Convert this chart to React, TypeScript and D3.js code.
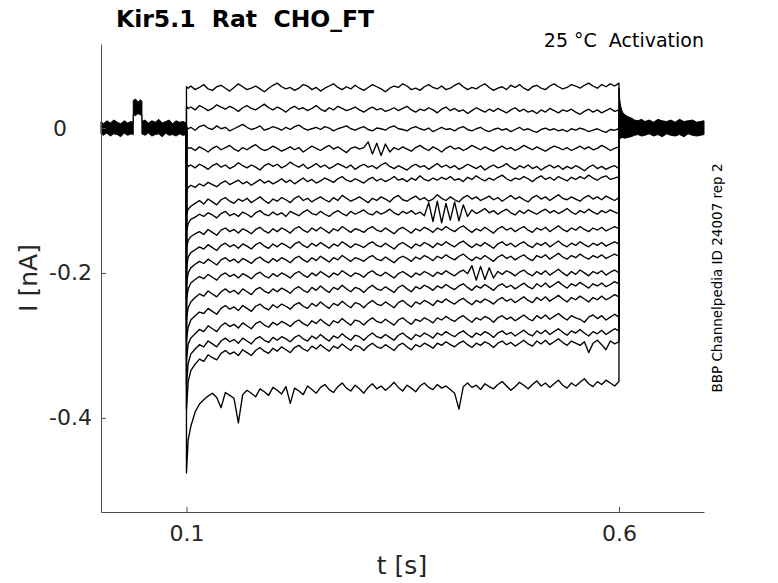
import * as d3 from "d3";
import React from "react";

// Recording window and voltage step (s)
const recordingStart = 0.0012;
const recordingEnd = 0.6983;
const pulseStart = 0.1;
const pulseEnd = 0.6;
const holdingCurrent = 0; // pA

// Sample times inside the step: onset, then every 5 ms (0.105 .. 0.6)
const pulseTimes = [0.1, 0.102, ...d3.range(21, 121).map((i) => i / 200)];

// Current (pA) of each sweep at pulseTimes, top sweep first
const sweep01 = [57, 55,
  58, 53, 56, 60, 54, 52, 57, 59, 55, 51,
  56, 61, 57, 53, 55, 58, 54, 50, 55, 59,
  62, 57, 54, 56, 52, 55, 60, 58, 53, 56,
  51, 55, 58, 61, 56, 53, 57, 54, 59, 55,
  52, 56, 60, 57, 54, 50, 55, 58, 56, 61,
  58, 53, 55, 52, 57, 60, 56, 54, 58, 53,
  55, 59, 62, 57, 53, 56, 54, 58, 61, 56,
  52, 55, 57, 53, 59, 56, 60, 55, 52, 57,
  59, 55, 53, 58, 61, 57, 54, 56, 60, 58,
  55, 59, 62, 58, 55, 60, 57, 61, 58, 62];
const sweep02 = [30, 27,
  29, 25, 31, 28, 24, 27, 32, 29, 26, 30,
  27, 23, 28, 31, 27, 25, 29, 33, 28, 25,
  29, 26, 22, 27, 30, 26, 28, 24, 27, 31,
  26, 23, 28, 25, 30, 27, 24, 26, 29, 25,
  22, 26, 29, 25, 27, 23, 25, 28, 24, 27,
  30, 25, 22, 26, 24, 28, 25, 21, 26, 29,
  24, 27, 23, 25, 20, 24, 28, 25, 22, 26,
  23, 27, 24, 21, 25, 28, 23, 26, 22, 24,
  20, 25, 22, 27, 24, 21, 25, 23, 26, 22,
  19, 23, 26, 22, 25, 21, 24, 27, 23, 25];
const sweep03 = [2, -1,
  1, -3, 2, 4, 0, -2, 3, -1, 1, -4,
  -1, 2, 5, 1, -2, 0, 3, -3, -1, 2,
  0, -3, 1, -2, 2, 4, 0, -3, -1, 1,
  -2, 2, 0, -4, -1, 1, 3, -1, -3, 0,
  2, -2, -4, 0, -1, -3, 1, 3, -1, -2,
  -4, 0, 2, -1, -3, 0, -5, -2, 1, -2,
  -1, -4, 0, 2, -2, -4, -1, 1, -3, -5,
  -2, 0, -3, -1, -5, -2, 1, -3, -1, -4,
  -6, -2, 0, -3, -1, -4, -2, -5, -1, -3,
  0, -2, -5, -3, -1, -4, -6, -2, -3, -1];
const sweep04 = [-25, -28,
  -27, -31, -26, -29, -33, -28, -25, -30, -27, -24,
  -29, -32, -27, -30, -26, -23, -28, -31, -29, -25,
  -28, -32, -29, -26, -30, -27, -33, -29, -25, -28,
  -31, -27, -24, -29, -26, -30, -34, -28, -26, -29,
  -27, -19, -36, -21, -38, -22, -33, -27, -30, -26,
  -29, -32, -27, -24, -28, -31, -26, -29, -33, -28,
  -25, -29, -27, -31, -28, -24, -27, -30, -26, -29,
  -32, -28, -25, -29, -27, -31, -28, -24, -27, -30,
  -26, -29, -32, -28, -25, -27, -30, -27, -31, -28,
  -25, -29, -26, -30, -28, -24, -27, -31, -28, -26];
const sweep05 = [-50, -53,
  -51, -55, -50, -53, -57, -52, -49, -54, -51, -56,
  -53, -48, -52, -55, -51, -54, -58, -52, -49, -53,
  -50, -55, -52, -47, -51, -54, -50, -56, -53, -49,
  -54, -51, -56, -53, -49, -52, -55, -51, -57, -53,
  -50, -54, -52, -56, -51, -48, -53, -56, -52, -55,
  -58, -53, -50, -54, -52, -57, -53, -49, -54, -51,
  -55, -52, -57, -54, -50, -53, -56, -52, -58, -54,
  -51, -55, -53, -49, -54, -57, -52, -55, -51, -56,
  -53, -58, -54, -51, -55, -52, -57, -53, -56, -52,
  -55, -59, -54, -51, -56, -53, -57, -54, -52, -56];
const sweep06 = [-86, -82,
  -79, -82, -77, -80, -75, -78, -81, -76, -73, -78,
  -75, -72, -77, -74, -79, -75, -71, -76, -73, -77,
  -74, -70, -75, -72, -77, -73, -69, -74, -71, -76,
  -73, -69, -72, -75, -70, -67, -72, -74, -70, -73,
  -76, -71, -68, -73, -70, -74, -71, -67, -72, -70,
  -74, -69, -72, -66, -71, -73, -69, -72, -68, -71,
  -67, -72, -70, -74, -68, -71, -66, -70, -73, -69,
  -72, -68, -65, -70, -73, -69, -71, -67, -70, -74,
  -69, -66, -71, -68, -72, -67, -70, -73, -68, -71,
  -67, -70, -65, -69, -72, -68, -66, -71, -69, -67];
const sweep07 = [-120, -112,
  -108, -104, -100, -105, -98, -102, -106, -99, -96, -101,
  -104, -98, -101, -97, -103, -99, -95, -100, -104, -98,
  -101, -96, -99, -103, -97, -94, -100, -97, -102, -98,
  -95, -99, -102, -96, -100, -93, -97, -101, -98, -95,
  -99, -103, -97, -100, -95, -98, -102, -96, -93, -99,
  -101, -97, -94, -99, -96, -101, -98, -92, -97, -100,
  -95, -99, -102, -96, -93, -98, -95, -100, -97, -94,
  -99, -96, -101, -97, -93, -98, -95, -99, -102, -96,
  -93, -98, -95, -100, -96, -92, -97, -99, -95, -98,
  -101, -96, -93, -98, -95, -99, -94, -97, -100, -96];
const sweep08 = [-143, -132,
  -126, -123, -119, -122, -117, -120, -124, -118, -115, -121,
  -118, -122, -116, -119, -123, -117, -114, -119, -121, -116,
  -120, -117, -122, -115, -118, -121, -116, -113, -118, -120,
  -115, -119, -122, -117, -114, -118, -121, -115, -119, -116,
  -113, -118, -120, -115, -119, -116, -112, -117, -120, -115,
  -118, -114, -119, -116, -121, -103, -129, -101, -131, -104,
  -127, -102, -128, -106, -122, -113, -118, -115, -111, -117,
  -114, -119, -115, -112, -117, -120, -114, -118, -113, -116,
  -119, -115, -112, -117, -114, -118, -115, -111, -116, -119,
  -114, -117, -112, -116, -119, -114, -117, -113, -116, -118];
const sweep09 = [-168, -155,
  -150, -146, -143, -147, -140, -144, -148, -141, -138, -143,
  -140, -145, -139, -142, -146, -140, -137, -142, -145, -139,
  -143, -138, -141, -145, -139, -136, -141, -144, -138, -142,
  -137, -141, -145, -139, -142, -136, -140, -144, -139, -141,
  -144, -139, -136, -141, -143, -138, -142, -146, -140, -137,
  -141, -145, -139, -142, -137, -140, -144, -138, -141, -136,
  -140, -143, -138, -135, -140, -144, -139, -142, -137, -141,
  -145, -139, -136, -141, -138, -143, -139, -136, -141, -144,
  -138, -141, -137, -143, -139, -135, -140, -143, -138, -141,
  -136, -140, -143, -138, -141, -137, -142, -139, -136, -139];
const sweep10 = [-193, -178,
  -172, -168, -164, -167, -161, -165, -169, -162, -159, -164,
  -161, -166, -160, -163, -167, -161, -158, -163, -166, -160,
  -164, -159, -162, -166, -160, -157, -162, -165, -159, -163,
  -158, -162, -166, -160, -163, -157, -161, -165, -160, -162,
  -165, -160, -157, -162, -164, -159, -163, -167, -161, -158,
  -162, -166, -160, -163, -158, -161, -165, -159, -162, -157,
  -161, -164, -159, -156, -161, -165, -160, -163, -158, -162,
  -166, -160, -157, -162, -159, -164, -160, -157, -162, -165,
  -159, -162, -158, -164, -160, -156, -161, -164, -159, -162,
  -157, -161, -164, -159, -162, -158, -163, -160, -157, -160];
const sweep11 = [-216, -200,
  -193, -188, -184, -187, -181, -185, -189, -182, -179, -184,
  -181, -186, -180, -183, -187, -181, -178, -183, -186, -180,
  -184, -179, -182, -186, -180, -177, -182, -185, -179, -183,
  -177, -181, -185, -179, -182, -176, -180, -184, -179, -181,
  -184, -179, -176, -181, -183, -178, -182, -186, -180, -177,
  -180, -184, -178, -181, -176, -179, -183, -177, -180, -175,
  -179, -182, -177, -174, -179, -183, -178, -181, -176, -180,
  -184, -178, -175, -180, -177, -182, -178, -175, -180, -183,
  -176, -179, -175, -181, -177, -173, -178, -181, -176, -179,
  -174, -178, -181, -176, -179, -175, -180, -177, -174, -177];
const sweep12 = [-237, -222,
  -214, -209, -205, -208, -202, -206, -210, -203, -200, -205,
  -202, -207, -201, -204, -208, -202, -199, -204, -207, -201,
  -205, -200, -203, -207, -201, -198, -203, -206, -200, -204,
  -198, -202, -206, -200, -203, -197, -201, -205, -200, -202,
  -206, -200, -197, -202, -204, -199, -203, -207, -201, -198,
  -202, -206, -200, -203, -198, -201, -205, -199, -202, -197,
  -201, -204, -199, -196, -201, -190, -210, -191, -209, -193,
  -207, -198, -202, -197, -200, -204, -199, -196, -201, -204,
  -198, -202, -197, -203, -199, -195, -200, -204, -198, -202,
  -196, -200, -204, -198, -201, -197, -203, -199, -196, -200];
const sweep13 = [-265, -248,
  -240, -234, -229, -232, -225, -229, -233, -226, -222, -227,
  -224, -229, -222, -226, -230, -223, -220, -225, -228, -222,
  -226, -221, -224, -228, -222, -219, -224, -227, -220, -224,
  -218, -223, -227, -220, -223, -217, -222, -226, -220, -222,
  -227, -221, -217, -222, -224, -219, -223, -227, -220, -217,
  -222, -226, -219, -222, -217, -220, -224, -218, -221, -216,
  -220, -223, -218, -215, -220, -224, -218, -221, -216, -220,
  -224, -218, -215, -220, -217, -222, -218, -214, -219, -222,
  -215, -219, -214, -220, -216, -212, -217, -221, -215, -218,
  -213, -217, -221, -215, -218, -214, -219, -216, -212, -215];
const sweep14 = [-292, -275,
  -265, -259, -254, -256, -249, -253, -257, -249, -245, -250,
  -247, -252, -245, -249, -253, -246, -243, -248, -251, -244,
  -248, -243, -246, -250, -244, -241, -246, -249, -242, -246,
  -240, -245, -249, -242, -245, -239, -244, -248, -241, -243,
  -248, -242, -238, -243, -245, -240, -244, -248, -241, -238,
  -243, -247, -240, -243, -238, -241, -245, -238, -241, -236,
  -240, -243, -238, -235, -240, -244, -238, -241, -236, -239,
  -243, -237, -234, -239, -236, -241, -237, -233, -238, -241,
  -234, -238, -233, -239, -235, -231, -236, -240, -234, -237,
  -232, -236, -240, -234, -237, -232, -237, -234, -230, -233];
const sweep15 = [-320, -298,
  -290, -284, -278, -281, -273, -277, -281, -273, -269, -274,
  -271, -276, -269, -273, -277, -270, -267, -272, -275, -268,
  -272, -267, -270, -274, -268, -265, -270, -273, -266, -270,
  -264, -269, -273, -266, -269, -263, -268, -272, -265, -267,
  -272, -266, -262, -267, -269, -264, -268, -272, -265, -262,
  -267, -271, -264, -267, -262, -265, -269, -262, -265, -260,
  -264, -267, -262, -259, -264, -268, -262, -265, -260, -263,
  -268, -262, -259, -264, -261, -266, -262, -258, -263, -266,
  -259, -263, -258, -264, -260, -256, -261, -265, -259, -262,
  -264, -268, -261, -258, -263, -259, -265, -261, -257, -261];
const sweep16 = [-354, -325,
  -312, -305, -299, -302, -294, -298, -302, -294, -290, -295,
  -292, -297, -290, -294, -298, -291, -288, -293, -296, -289,
  -293, -288, -291, -295, -289, -286, -291, -294, -287, -291,
  -285, -290, -294, -287, -290, -284, -289, -293, -286, -288,
  -293, -287, -283, -288, -290, -285, -289, -293, -286, -283,
  -288, -292, -285, -288, -283, -286, -290, -283, -286, -281,
  -285, -288, -283, -280, -285, -289, -283, -286, -281, -284,
  -289, -283, -280, -285, -282, -287, -283, -279, -284, -287,
  -280, -284, -279, -285, -281, -277, -282, -286, -280, -283,
  -278, -283, -287, -281, -284, -279, -285, -281, -277, -280];
const sweep17 = [-389, -350,
  -335, -326, -319, -322, -313, -317, -320, -311, -307, -312,
  -309, -314, -306, -310, -314, -307, -303, -308, -311, -304,
  -308, -302, -306, -310, -303, -300, -305, -308, -301, -305,
  -299, -304, -308, -301, -304, -298, -303, -307, -300, -302,
  -307, -301, -297, -302, -304, -299, -303, -307, -300, -297,
  -302, -306, -299, -302, -297, -300, -304, -297, -300, -295,
  -299, -302, -297, -294, -299, -303, -297, -300, -295, -298,
  -303, -297, -294, -299, -296, -301, -297, -293, -298, -301,
  -294, -298, -293, -299, -295, -291, -296, -300, -294, -297,
  -300, -295, -310, -297, -293, -299, -306, -294, -298, -295];
const sweep18 = [-476, -430,
  -412, -392, -381, -375, -370, -366, -372, -386, -365, -369,
  -373, -407, -368, -362, -366, -371, -360, -364, -369, -358,
  -362, -367, -357, -380, -359, -363, -368, -356, -361, -366,
  -358, -354, -361, -365, -357, -352, -359, -363, -355, -360,
  -366, -358, -353, -360, -356, -362, -357, -351, -358, -363,
  -355, -359, -364, -356, -352, -358, -361, -354, -359, -356,
  -361, -366, -388, -357, -352, -358, -355, -361, -353, -357,
  -360, -354, -350, -356, -362, -357, -351, -355, -360, -354,
  -349, -356, -352, -358, -353, -348, -355, -359, -352, -356,
  -351, -346, -353, -357, -350, -354, -348, -352, -356, -350];

const sweeps = [
  sweep01, sweep02, sweep03, sweep04, sweep05, sweep06, sweep07, sweep08, sweep09,
  sweep10, sweep11, sweep12, sweep13, sweep14, sweep15, sweep16, sweep17, sweep18,
];

// Envelope (pA) of all sweeps overlapping before the step, with the test pulse
const preTimes = [0.0012, 0.004, 0.008, 0.012, 0.016, 0.02, 0.024, 0.028, 0.032, 0.036, 0.0385, 0.0385, 0.041, 0.044, 0.047, 0.0485, 0.0485, 0.052, 0.056, 0.06, 0.064, 0.068, 0.072, 0.076, 0.08, 0.084, 0.088, 0.092, 0.096, 0.1];
const preUpper = [9, 6, 10, 7, 11, 8, 6, 10, 7, 9, 8, 38, 40, 36, 39, 37, 9, 11, 7, 10, 8, 12, 7, 9, 11, 6, 10, 8, 9, 7];
const preLower = [-8, -10, -7, -11, -8, -9, -12, -7, -10, -8, -9, 19, 17, 20, 18, 19, -8, -10, -7, -11, -9, -8, -12, -7, -10, -9, -11, -8, -10, -9];

// Envelope (pA) after the step, with the tail current
const postTimes = [0.6, 0.6008, 0.602, 0.604, 0.607, 0.61, 0.614, 0.618, 0.622, 0.626, 0.63, 0.635, 0.64, 0.645, 0.65, 0.655, 0.66, 0.665, 0.67, 0.675, 0.68, 0.685, 0.69, 0.6983];
const postUpper = [55, 40, 30, 22, 18, 16, 14, 11, 10, 12, 9, 11, 8, 12, 10, 9, 11, 8, 12, 9, 10, 11, 8, 10];
const postLower = [-14, -15, -14, -13, -14, -13, -12, -10, -9, -11, -10, -8, -11, -9, -12, -8, -10, -11, -9, -12, -8, -10, -11, -9];

const xTicks = [0.1, 0.6];
const yTicks = [-400, -200, 0];
const yTickLabels = ["-0.4", "-0.2", "0\u2007\u2002"];

const App = (): React.ReactElement => {
  const chartRef = React.useRef<SVGSVGElement>(null);

  React.useEffect(() => {
    const svg = d3.select(chartRef.current);
    svg.selectAll("*").remove();

    const font = "DejaVu Sans";
    const ink = "#262626";

    const x = d3.scaleLinear().domain([recordingStart, recordingEnd]).range([101, 704]);
    const y = d3.scaleLinear().domain([-530, 116]).range([512, 44]);

    // Baseline envelopes
    const band = (times: number[], lo: number[], hi: number[]) =>
      d3
        .area<number>()
        .x((_, i) => x(times[i]))
        .y0((_, i) => y(lo[i]))
        .y1((_, i) => y(hi[i]));

    [
      [preTimes, preLower, preUpper],
      [postTimes, postLower, postUpper],
    ].forEach(([times, lo, hi]) => {
      svg
        .append("path")
        .datum(times)
        .attr("d", band(times, lo, hi))
        .attr("fill", "black")
        .attr("stroke", "black")
        .attr("stroke-width", 1);
    });

    // Sweeps during the step
    const line = d3
      .line<[number, number]>()
      .x((d) => x(d[0]))
      .y((d) => y(d[1]));

    sweeps.forEach((s) => {
      const pts: [number, number][] = [
        [pulseStart, holdingCurrent],
        ...s
          .map((v, i) => [pulseTimes[i], v] as [number, number])
          .filter((d) => d[0] !== undefined),
        [pulseEnd, holdingCurrent],
      ];
      svg
        .append("path")
        .datum(pts)
        .attr("d", line)
        .attr("fill", "none")
        .attr("stroke", "black")
        .attr("stroke-width", 1.35)
        .attr("stroke-linejoin", "round");
    });

    // Axes
    const xAxis = svg
      .append("g")
      .attr("transform", "translate(0, 512)")
      .call(
        d3
          .axisBottom(x)
          .tickValues(xTicks)
          .tickFormat(d3.format(".1f") as any)
          .tickSizeInner(-5)
          .tickSizeOuter(0)
          .tickPadding(13)
      );

    const yAxis = svg
      .append("g")
      .attr("transform", "translate(101, 0)")
      .call(
        d3
          .axisLeft(y)
          .tickValues(yTicks)
          .tickFormat((_, i) => yTickLabels[i])
          .tickSizeInner(-5)
          .tickSizeOuter(0)
          .tickPadding(9)
      );

    [xAxis, yAxis].forEach((g) => {
      g.select(".domain").attr("stroke", "#4d4d4d");
      g.selectAll(".tick line").attr("stroke", "#4d4d4d");
      g.selectAll(".tick text")
        .attr("fill", ink)
        .style("font-family", font)
        .style("font-size", "22px")
        .style("white-space", "pre");
    });

    // Labels
    svg
      .append("text")
      .attr("x", 402)
      .attr("y", 574)
      .attr("text-anchor", "middle")
      .attr("fill", ink)
      .style("font-family", font)
      .style("font-size", "25px")
      .text("t [s]");

    svg
      .append("text")
      .attr("transform", "translate(37, 278) rotate(-90)")
      .attr("text-anchor", "middle")
      .attr("fill", ink)
      .style("font-family", font)
      .style("font-size", "25px")
      .text("I [nA]");

    svg
      .append("text")
      .attr("x", 116)
      .attr("y", 27)
      .attr("fill", "black")
      .style("font-family", font)
      .style("font-size", "23.5px")
      .style("font-weight", "bold")
      .style("white-space", "pre")
      .text("Kir5.1  Rat  CHO_FT");

    svg
      .append("text")
      .attr("x", 704)
      .attr("y", 47)
      .attr("text-anchor", "end")
      .attr("fill", "black")
      .style("font-family", font)
      .style("font-size", "19px")
      .style("white-space", "pre")
      .text("25 °C  Activation");

    svg
      .append("text")
      .attr("transform", "translate(722, 278) rotate(-90)")
      .attr("text-anchor", "middle")
      .attr("fill", "black")
      .style("font-family", font)
      .style("font-size", "13.5px")
      .text("BBP Channelpedia ID 24007 rep 2");
  }, []);

  return (
    <svg
      ref={chartRef}
      width={778}
      height={583}
      style={{ position: "absolute", left: 0, top: 0, background: "white" }}
    ></svg>
  );
};

export default App;
